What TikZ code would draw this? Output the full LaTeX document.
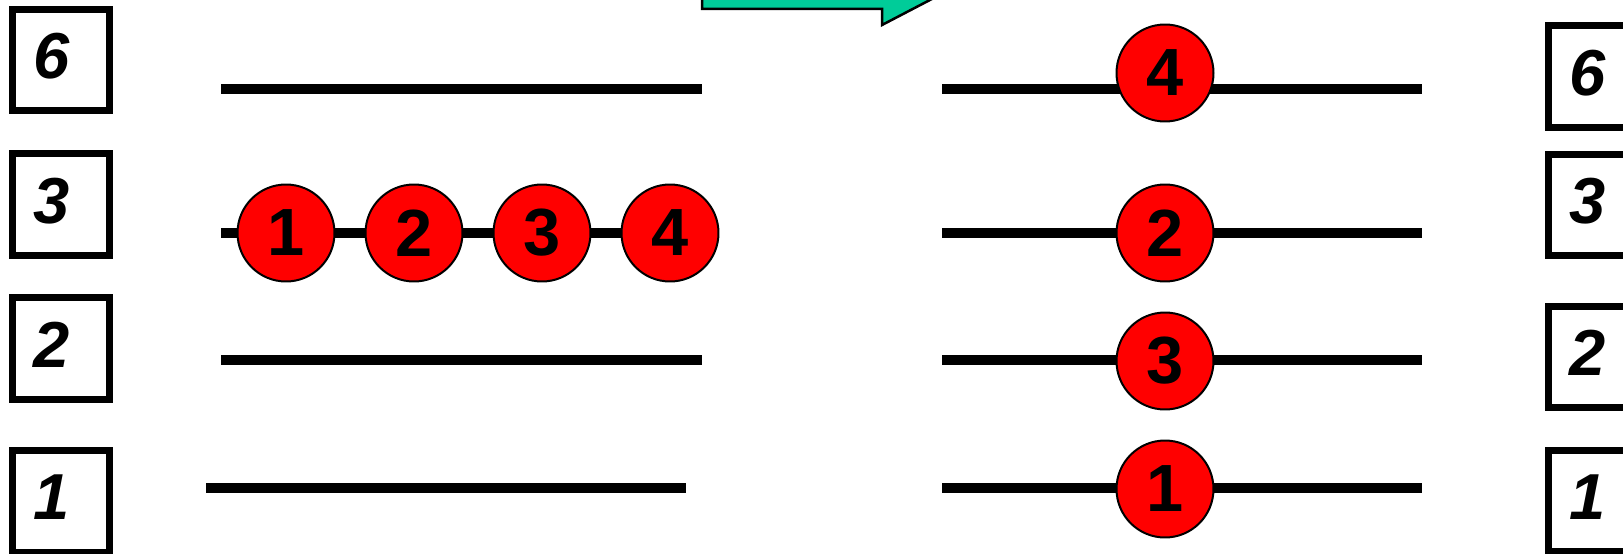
\documentclass[tikz,border=0pt]{standalone}
\usepackage{fontspec}
\setmainfont{Liberation Sans}
\definecolor{arrowteal}{HTML}{00CC99}
\begin{document}
\begin{tikzpicture}[
  x=0.02cm, y=-0.02cm,
  slotbox/.style = {draw, line width=0.14cm, minimum width=1.94cm, minimum height=2.04cm,
    inner sep=0pt, text depth=0.16cm, font=\fontsize{37}{40}\selectfont\bfseries\itshape},
  slotline/.style = {line width=0.2cm},
  ball/.style = {circle, draw, fill=red, line width=0.04cm, minimum size=1.94cm,
    inner sep=0pt, font=\fontsize{38}{40}\selectfont\bfseries},
  movearrow/.style = {draw, fill=arrowteal, line width=0.05cm, line join=miter}
]
  \useasboundingbox (0,0) rectangle (1623,554);
  \clip (0,0) rectangle (1623,554);
  % arrow
  \draw[movearrow] (702,-31) -- (702,9) -- (882,9) -- (882,25) -- (951,-11)
    -- (882,-47) -- (882,-31) -- cycle;
  % labels
  \foreach \d/\y in {6/60,3/204.5,2/348.5,1/501.5}
    \node[slotbox] (lbox\d) at (61,\y) {\kern-11pt\relax\d};
  \foreach \d/\y in {6/76.5,3/205,2/357,1/501}
    \node[slotbox] (rbox\d) at (1597,\y) {\kern-11pt\relax\d};
  % rows
  \foreach \r/\y/\a/\b in {6/89/221/702, 3/233/221/670, 2/360/221/702, 1/488/206/686} {
    \coordinate (la\r) at (\a,\y);
    \coordinate (lb\r) at (\b,\y);
    \draw[slotline] (la\r) -- (lb\r);
  }
  \foreach \r/\y in {6/89,3/233,2/360,1/488} {
    \coordinate (ra\r) at (942,\y);
    \coordinate (rb\r) at (1422,\y);
    \draw[slotline] (ra\r) -- (rb\r);
  }
  % balls
  \foreach \k in {1,...,4}
    \node[ball] (lball\k) at ({286+128*(\k-1)},233) {\k};
  \foreach \k/\y in {4/73,2/233,3/361,1/489}
    \node[ball] (rball\k) at (1165,\y) {\k};
\end{tikzpicture}
\end{document}
